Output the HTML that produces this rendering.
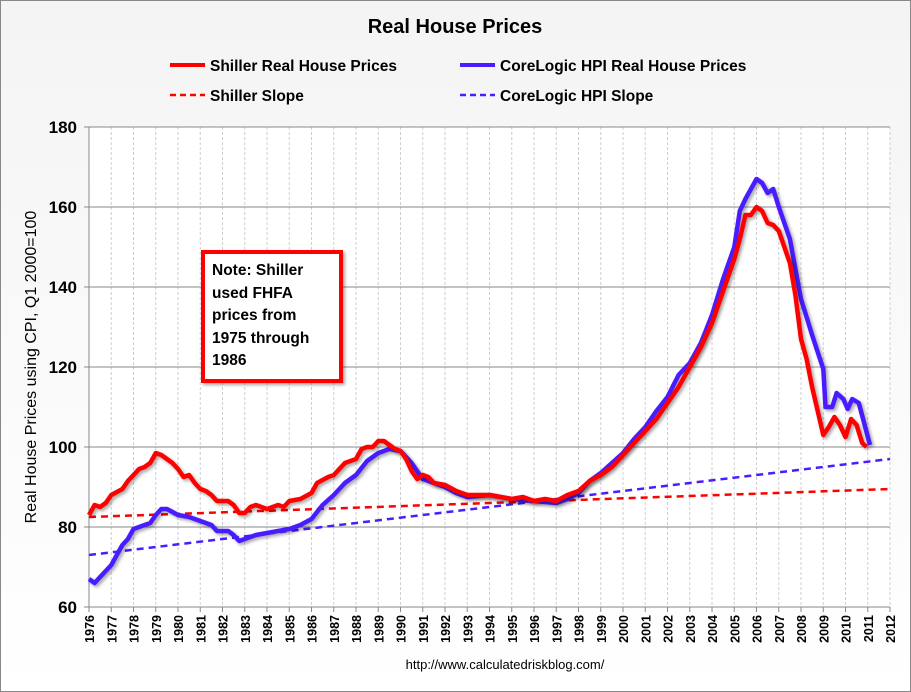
<!DOCTYPE html>
<html><head><meta charset="utf-8"><style>
body{margin:0;background:#fff;}
#wrap{position:relative;width:911px;height:692px;overflow:hidden;font-family:"Liberation Sans",sans-serif;}
svg text{font-family:"Liberation Sans",sans-serif;}
</style></head><body>
<div id="wrap">
<svg id="chart" width="911" height="692" xmlns="http://www.w3.org/2000/svg">
<defs>
<linearGradient id="bg" x1="0" y1="0" x2="0" y2="1"><stop offset="0" stop-color="#f4f4f4"/><stop offset="1" stop-color="#ffffff"/></linearGradient>
<filter id="sh" x="-10%" y="-10%" width="130%" height="130%"><feDropShadow dx="2" dy="2" stdDeviation="1.5" flood-color="#000" flood-opacity="0.35"/></filter>
</defs>
<rect x="0.5" y="0.5" width="910" height="691" fill="url(#bg)" stroke="#888"/>
<text x="455" y="33" text-anchor="middle" font-size="20" font-weight="bold">Real House Prices</text>
<g>
<g><line x1="170" y1="65" x2="205" y2="65" stroke="#ff0000" stroke-width="4"/><text x="210" y="71" font-size="15.5" font-weight="bold">Shiller Real House Prices</text></g>
<g><line x1="460" y1="65" x2="495" y2="65" stroke="#4a1cff" stroke-width="4"/><text x="500" y="71" font-size="15.5" font-weight="bold">CoreLogic HPI Real House Prices</text></g>
<g><line x1="170" y1="95" x2="205" y2="95" stroke="#ff0000" stroke-width="2.5" stroke-dasharray="6,4"/><text x="210" y="101" font-size="15.5" font-weight="bold">Shiller Slope</text></g>
<g><line x1="460" y1="95" x2="495" y2="95" stroke="#4a1cff" stroke-width="2.5" stroke-dasharray="6,4"/><text x="500" y="101" font-size="15.5" font-weight="bold">CoreLogic HPI Slope</text></g>
</g>
<rect x="89" y="127" width="801" height="480" fill="#fff"/>
<g id="grid"></g>
<g id="axes"></g>
<g id="series"></g>
<text transform="translate(36,367) rotate(-90)" text-anchor="middle" font-size="16">Real House Prices using CPI, Q1 2000=100</text>
<g filter="url(#sh)"><rect x="203" y="252" width="138" height="129" fill="#fff" stroke="#ff0000" stroke-width="4"/></g>
<text font-size="15.5" font-weight="bold"><tspan x="212" y="275">Note: Shiller</tspan><tspan x="212" y="298">used FHFA</tspan><tspan x="212" y="320">prices from</tspan><tspan x="212" y="343">1975 through</tspan><tspan x="212" y="365">1986</tspan></text>
<text x="505" y="669" text-anchor="middle" font-size="13">http://www.calculatedriskblog.com/</text>
</svg>
</div>
<script>
const yTicks=[60,80,100,120,140,160,180];
const years=[1976,1977,1978,1979,1980,1981,1982,1983,1984,1985,1986,1987,1988,1989,1990,1991,1992,1993,1994,1995,1996,1997,1998,1999,2000,2001,2002,2003,2004,2005,2006,2007,2008,2009,2010,2011,2012];
const shillerT=[1976,1976.25,1976.5,1976.75,1977,1977.5,1977.75,1978,1978.25,1978.5,1978.75,1979,1979.25,1979.5,1979.75,1980,1980.25,1980.5,1980.75,1981,1981.25,1981.5,1981.75,1982.25,1982.5,1982.75,1983,1983.25,1983.5,1983.75,1984,1984.25,1984.5,1984.75,1985,1985.5,1986,1986.25,1986.75,1987,1987.5,1988,1988.25,1988.5,1988.75,1989,1989.25,1989.5,1989.75,1990,1990.25,1990.5,1990.75,1991,1991.25,1991.5,1992,1992.5,1993,1993.5,1994,1994.5,1995,1995.5,1996,1996.5,1997,1997.5,1998,1998.5,1999,1999.5,2000,2000.5,2001,2001.5,2002,2002.5,2003,2003.5,2004,2004.5,2005,2005.25,2005.5,2005.75,2006,2006.25,2006.5,2006.75,2007,2007.5,2007.75,2008,2008.25,2008.5,2008.75,2009,2009.25,2009.5,2009.75,2010,2010.25,2010.5,2010.75,2010.95];
const shillerV=[83,85.5,85,86,88,89.5,91.5,93,94.5,95,96,98.5,98,97,96,94.5,92.5,93,91,89.5,89,88,86.5,86.5,85.5,83.5,83.5,85,85.5,85,84.5,85,85.5,85,86.5,87,88.5,91,92.5,93,96,97,99.5,100,100,101.5,101.5,100.5,99.5,99,97,94,92,93,92.5,91,90.5,89,88,88,88,87.5,87,87.5,86.5,87,86.5,88,89,91.5,93,95,98,101,104,107,111,115,120,125,131,139,147,152,158,158,160,159,156,155.5,154,146,138,127,122,115,109,103,105,107.5,105.5,102.5,107,105.5,101,100];
const coreT=[1976,1976.25,1976.5,1976.75,1977,1977.25,1977.5,1977.75,1978,1978.5,1978.75,1979,1979.25,1979.5,1980,1980.5,1981,1981.5,1981.75,1982.25,1982.5,1982.75,1983,1983.5,1984,1984.5,1985,1985.5,1986,1986.5,1987,1987.5,1988,1988.5,1989,1989.5,1990,1990.5,1991,1991.5,1992,1992.5,1993,1994,1995,1996,1997,1997.5,1998,1998.5,1999,1999.5,2000,2000.5,2001,2001.5,2002,2002.5,2003,2003.5,2004,2004.5,2005,2005.25,2005.5,2006,2006.25,2006.5,2006.75,2007,2007.5,2008,2008.5,2009,2009.1,2009.4,2009.6,2009.9,2010.1,2010.3,2010.6,2011.1];
const coreV=[67,66,67.5,69,70.5,73,75.5,77,79.5,80.5,81,83,84.5,84.5,83,82.5,81.5,80.5,79,79,78,76.5,77,78,78.5,79,79.5,80.5,82,85.5,88,91,93,96.5,98.5,99.5,99,96,92,91,90,88.5,87.5,88,87,86.5,86,87,88.5,91.5,93.5,96,98.5,102,105,109,112.5,118,121,126,133,142,150,159,162,167,166,163.5,164.5,160,152,137,128,119.5,110,110,113.5,112,109.5,112,111,100.5];
const slopeT=[1976,2012];
const shillerSlopeV=[82.5,89.5];
const coreSlopeV=[73,97];

const NS="http://www.w3.org/2000/svg";
const X0=89,X1=890,Y0=607,Y1=127;
const xs=t=>X0+(t-1976)*(X1-X0)/36;
const ys=v=>Y0-(v-60)*(Y0-Y1)/120;
function mk(tag,attrs,parent){const e=document.createElementNS(NS,tag);for(const k in attrs)e.setAttribute(k,attrs[k]);parent.appendChild(e);return e;}
const grid=document.getElementById('grid'),axes=document.getElementById('axes'),series=document.getElementById('series');
years.forEach(y=>{
  const l=mk('line',{x1:xs(y),x2:xs(y),y1:Y1,y2:Y0,stroke:'#cfcfcf','stroke-dasharray':'3,2'},grid);
  
  
  const tk=mk('line',{x1:xs(y),x2:xs(y),y1:Y0,y2:Y0+5,stroke:'#888'},axes);
  
  
  const t=mk('text',{transform:`translate(${xs(y)+5},${Y0+8}) rotate(-90)`,'text-anchor':'end','font-size':'12.5','font-weight':'bold'},axes);
  t.textContent=y;
  
  
});
yTicks.forEach(v=>{
  const l=mk('line',{x1:X0-5,x2:X1,y1:ys(v),y2:ys(v),stroke:'#888'},grid);
  
  
  const t=mk('text',{x:X0-12,y:ys(v)+6,'text-anchor':'end','font-size':'17','font-weight':'bold'},axes);
  t.textContent=v;
  
  
});
const ax=mk('line',{x1:X0,x2:X0,y1:Y1,y2:Y0,stroke:'#888'},axes);


function path(T,V){return T.map((t,i)=>(i?'L':'M')+xs(t).toFixed(1)+','+ys(V[i]).toFixed(1)).join('');}
const s1=mk('path',{d:path(slopeT,shillerSlopeV),stroke:'#ff0000','stroke-width':2.5,'stroke-dasharray':'7,5',fill:'none'},series);


const s2=mk('path',{d:path(slopeT,coreSlopeV),stroke:'#4a1cff','stroke-width':2.5,'stroke-dasharray':'7,5',fill:'none'},series);


const p1=mk('path',{d:path(coreT,coreV),stroke:'#4a1cff','stroke-width':4.5,fill:'none','stroke-linejoin':'round',filter:'url(#sh)'},series);


const p2=mk('path',{d:path(shillerT,shillerV),stroke:'#ff0000','stroke-width':4.5,fill:'none','stroke-linejoin':'round',filter:'url(#sh)'},series);


</script>
</body></html>
